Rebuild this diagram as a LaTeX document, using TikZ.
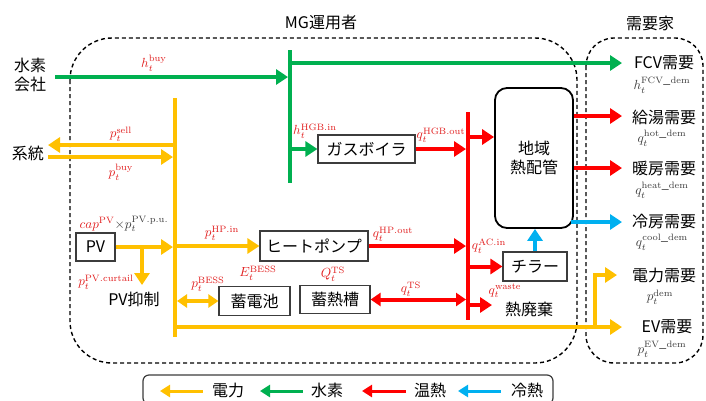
\documentclass[tikz,border=0pt]{standalone}
\usepackage{fix-cm}
\usepackage[no-math]{fontspec}
\setmainfont{Noto Sans CJK JP}
\usetikzlibrary{arrows.meta}
\definecolor{cy}{HTML}{FFC000}
\definecolor{cg}{HTML}{00B050}
\definecolor{cr}{HTML}{FF0000}
\definecolor{cb}{HTML}{00B0F0}
\definecolor{lr}{RGB}{225,30,30}
\definecolor{lg}{RGB}{60,60,60}
\definecolor{bx}{RGB}{60,60,60}
\newcommand{\rl}[1]{\scalebox{1.32}{\textcolor{lr}{$#1$}}}
\newcommand{\gl}[1]{\scalebox{1.32}{\textcolor{lg}{$#1$}}}
\begin{document}
\begin{tikzpicture}[x=1pt,y=-1pt,
  jp/.style={inner sep=0pt,font=\fontsize{16}{19}\selectfont},
  ml/.style={inner sep=0pt},
  box/.style={draw=bx,line width=1.2pt,fill=white,inner sep=0pt,font=\fontsize{16}{19}\selectfont},
  fl/.style={line width=4pt},
  arr/.style={-{Triangle[length=12pt,width=15pt]}},
  darr/.style={{Triangle[length=10pt,width=13pt]}-{Triangle[length=10pt,width=13pt]}},
  legarr/.style={line width=3pt,{Triangle[length=10pt,width=12pt]}-},
  grp/.style={draw=black,dashed,dash pattern=on 4pt off 3pt,line width=1.4pt}
]
\useasboundingbox (0,0) rectangle (706,400);
% group frames
\draw[grp,rounded corners=42pt] (70,38) rectangle (577,363);
\draw[grp,rounded corners=28pt] (586,38) rectangle (703,363);
\node[jp] (mg) at (321,22) {MG運用者};
\node[jp] (cust) at (650,23) {需要家};
% left sources
\node[jp,align=center] (h2co) at (30,75) {水素\\会社};
\node[jp] (grid) at (28,153) {系統};
% boxes
\node[box,minimum width=97pt,minimum height=28pt] (gas) at (366.5,149) {ガスボイラ};
\node[box,minimum width=108pt,minimum height=30pt] (hp) at (314,246) {ヒートポンプ};
\node[box,minimum width=71pt,minimum height=29pt] (bess) at (254.5,301) {蓄電池};
\node[box,minimum width=70pt,minimum height=28pt] (ts) at (335,299.5) {蓄熱槽};
\node[box,minimum width=39pt,minimum height=28pt] (pv) at (95.5,247) {PV};
\node[box,minimum width=64pt,minimum height=29pt] (ch) at (535,266.5) {チラー};
\node[box,draw=black,line width=1.8pt,rounded corners=12pt,align=center,minimum width=78pt,minimum height=140pt] (dhc) at (534,158) {地域\\熱配管};
\node[jp] (pvc) at (134,299) {PV抑制};
\node[jp] (waste) at (529,309) {熱廃棄};
% demand texts
\node[jp] (fcv) at (664,63) {FCV需要};
\node[jp] (hot) at (664,117) {給湯需要};
\node[jp] (heat) at (664,169) {暖房需要};
\node[jp] (cool) at (664,222) {冷房需要};
\node[jp] (elec) at (664,275) {電力需要};
\node[jp] (ev) at (667,327) {EV需要};
\node[ml] (fcvl) at (662,85) {\gl{h_t^{\mathrm{FCV\_dem}}}};
\node[ml] (hotl) at (662,138) {\gl{q_t^{\mathrm{hot\_dem}}}};
\node[ml] (heatl) at (662,190) {\gl{q_t^{\mathrm{heat\_dem}}}};
\node[ml] (cooll) at (662,242) {\gl{q_t^{\mathrm{cool\_dem}}}};
\node[ml] (elecl) at (660,297) {\gl{p_t^{\mathrm{dem}}}};
\node[ml] (evl) at (662,349) {\gl{p_t^{\mathrm{EV\_dem}}}};
% flow labels
\node[ml] (lhbuy) at (154,63) {\rl{h_t^{\mathrm{buy}}}};
\node[ml] (lsell) at (121,134) {\rl{p_t^{\mathrm{sell}}}};
\node[ml] (lpbuy) at (121,172) {\rl{p_t^{\mathrm{buy}}}};
\node[ml] (lhgbin) at (315,131) {\rl{h_t^{\mathrm{HGB.in}}}};
\node[ml] (lhgbout) at (441,135) {\rl{q_t^{\mathrm{HGB.out}}}};
\node[ml] (lpv) at (124,224) {\rl{cap^{\mathrm{PV}}}\gl{\times p_t^{\mathrm{PV.p.u.}}}};
\node[ml] (lcurt) at (106,282) {\rl{p_t^{\mathrm{PV.curtail}}}};
\node[ml] (lhpin) at (222,233) {\rl{p_t^{\mathrm{HP.in}}}};
\node[ml] (lpbess) at (208,284) {\rl{p_t^{\mathrm{BESS}}}};
\node[ml] (lebess) at (258,273) {\rl{E_t^{\mathrm{BESS}}}};
\node[ml] (lqts) at (333,274) {\rl{Q_t^{\mathrm{TS}}}};
\node[ml] (lts) at (411,289) {\rl{q_t^{\mathrm{TS}}}};
\node[ml] (lhpout) at (393,234) {\rl{q_t^{\mathrm{HP.out}}}};
\node[ml] (lacin) at (489,246) {\rl{q_t^{\mathrm{AC.in}}}};
\node[ml] (lwaste) at (505,291) {\rl{q_t^{\mathrm{waste}}}};
% coordinates
\coordinate (yb1) at (175,98);  \coordinate (yb2) at (175,337);
\coordinate (gb1) at (290,50);  \coordinate (gb2) at (290,183);
\coordinate (rb1) at (468,112); \coordinate (rb2) at (468,320);
\coordinate (hsrc) at (55,77);
\coordinate (gs) at (48,145); \coordinate (gbuy) at (48,157);
\coordinate (cur) at (142,285);
\coordinate (wst) at (492,305);
\coordinate (tF) at (622,63); \coordinate (tH) at (622,116);
\coordinate (tHe) at (622,168); \coordinate (tC) at (622,222);
\coordinate (tE) at (617,275); \coordinate (tEV) at (622,327);
\coordinate (eb) at (595,327);
% buses
\draw[fl,cy] (yb1) -- (yb2);
\draw[fl,cg] (gb1) -- (gb2);
\draw[fl,cr] (rb1) -- (rb2);
% green flows
\draw[fl,cg,arr,shorten >=2pt] (hsrc) -- (hsrc -| gb1);
\draw[fl,cg,arr] (gb1 |- tF) -- (tF);
\draw[fl,cg,arr] (gb1 |- gas) -- (gas.west);
% yellow flows
\draw[fl,cy,arr] (yb1 |- gs) -- (gs);
\draw[fl,cy,arr,shorten >=2pt] (gbuy) -- (gbuy -| yb1);
\draw[fl,cy,arr,shorten >=2pt] (pv.east) -- (pv.east -| yb1);
\draw[fl,cy,arr] (cur |- pv) -- (cur);
\draw[fl,cy,arr] (yb1 |- hp) -- (hp.west);
\draw[fl,cy,darr,shorten <=2pt] (yb1 |- bess) -- (bess.west);
\draw[fl,cy,arr] (yb1 |- tEV) -- (tEV);
\draw[fl,cy,arr] (eb) -- (eb |- tE) -- (tE);
% red flows
\draw[fl,cr,arr,shorten >=2pt] (gas.east) -- (gas.east -| rb1);
\draw[fl,cr,arr] (rb1 |- 0,137) -- (dhc.west |- 0,137);
\draw[fl,cr,arr,shorten >=2pt] (hp.east) -- (hp.east -| rb1);
\draw[fl,cr,darr,shorten >=2pt] (ts.east) -- (ts.east -| rb1);
\draw[fl,cr,arr] (rb1 |- ch) -- (ch.west);
\draw[fl,cr,arr] (rb1 |- wst) -- (wst);
\draw[fl,cr,arr] (dhc.east |- tH) -- (tH);
\draw[fl,cr,arr] (dhc.east |- tHe) -- (tHe);
% blue flows
\draw[fl,cb,arr] ([xshift=-3pt]dhc.east |- tC) -- (tC);
\draw[fl,cb,arr] (ch.north) -- (ch.north |- dhc.south);
% legend
\draw[draw=bx,line width=1.2pt,rounded corners=6pt,fill=white] (143,375) rectangle (553,404);
\coordinate (la1) at (160,391); \coordinate (la2) at (203,391);
\coordinate (lb1) at (260,391); \coordinate (lb2) at (303,391);
\coordinate (lc1) at (362,391); \coordinate (lc2) at (406,391);
\coordinate (ld1) at (458,391); \coordinate (ld2) at (501,391);
\draw[legarr,cy] (la1) -- (la2);
\draw[legarr,cg] (lb1) -- (lb2);
\draw[legarr,cr] (lc1) -- (lc2);
\draw[legarr,cb] (ld1) -- (ld2);
\node[jp] (lg1) at (228,390) {電力};
\node[jp] (lg2) at (327,390) {水素};
\node[jp] (lg3) at (430,390) {温熱};
\node[jp] (lg4) at (527,390) {冷熱};
\end{tikzpicture}
\end{document}
